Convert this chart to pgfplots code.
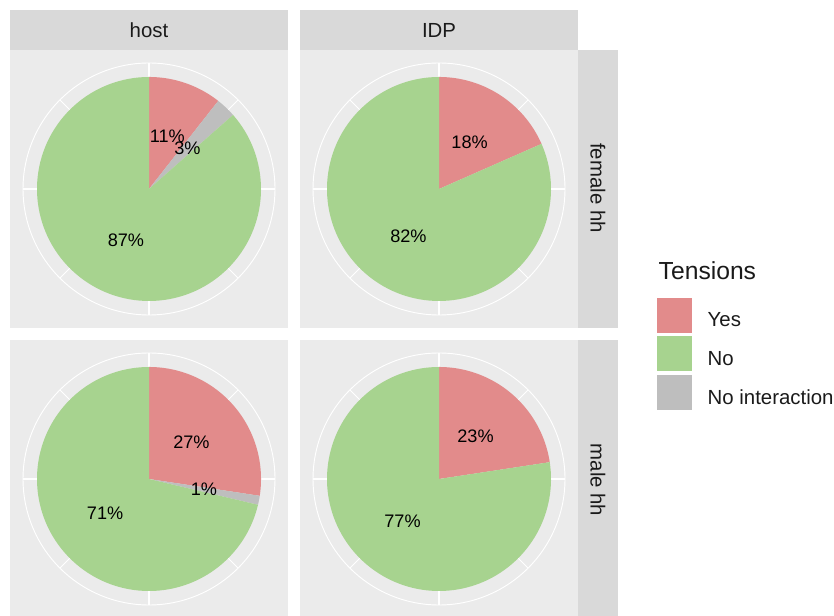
\documentclass[border=0pt]{standalone}
\usepackage{fontspec}
\setmainfont{Liberation Sans}
\usepackage{pgfplots}
\pgfplotsset{compat=1.18}

\definecolor{yescol}{RGB}{226,139,139}
\definecolor{nocol}{RGB}{167,211,143}
\definecolor{nicol}{RGB}{190,190,190}
\definecolor{panelbg}{RGB}{235,235,235}
\definecolor{stripbg}{RGB}{217,217,217}
\definecolor{txt}{RGB}{26,26,26}

\newcommand\labfont{\fontsize{13.6}{16}\selectfont}
\newcommand\stripfont{\fontsize{15.3}{18}\selectfont}

\pgfplotsset{
  piepanel/.style={
    width=208.5pt, height=208.5pt, scale only axis,
    xmin=-1.241, xmax=1.241, ymin=-1.241, ymax=1.241,
    axis line style={draw=none}, ticks=none,
    axis background/.style={fill=panelbg},
  },
  wedge/.style={draw=none, samples=120, forget plot},
  sqlegend/.style={
    legend style={at={(axis description cs:1.2806,0.1115)}, anchor=north west,
      draw=none, fill=none, inner sep=0pt, outer sep=0pt, row sep=1.1pt,
      font=\stripfont, text=txt, nodes={inner sep=0pt, yshift=-2pt},
      /tikz/every odd column/.append style={column sep=11pt}},
    legend cell align=left,
    legend image code/.code={\draw[#1, draw=white, line width=0.75pt] (0pt,-11.5pt) rectangle (27pt,15.5pt);},
  },
}

% #1,#2 lower left corner (px, y up); #3 Yes, #4 No interaction, #5 No (percent);
% #6 extra axis options; #7 extra content
\newcommand\piepanel[7]{%
  \pgfmathsetmacro\tot{#3+#4+#5}%
  \pgfmathsetmacro\aA{360*#3/\tot}%
  \pgfmathsetmacro\aB{360*(#3+#4)/\tot}%
  \pgfmathsetmacro\mA{\aA/2}%
  \pgfmathsetmacro\mB{(\aA+\aB)/2}%
  \pgfmathsetmacro\mC{(\aB+360)/2}%
  \pgfmathsetmacro\lA{int(round(#3))}%
  \pgfmathsetmacro\lB{int(round(#4))}%
  \pgfmathsetmacro\lC{int(round(#5))}%
  \begin{axis}[piepanel, at={({#1*0.75pt},{#2*0.75pt})}, anchor=south west, #6]
    % grid of the polar coordinates
    \addplot[white, line width=0.7pt, domain=0:360, samples=180, forget plot] ({1.125*sin(x)},{1.125*cos(x)});
    \addplot[white, line width=1.2pt, forget plot] coordinates {(0,0) (0,1.125)};
    \addplot[white, line width=1.2pt, forget plot] coordinates {(0,0) (1.125,0)};
    \addplot[white, line width=1.2pt, forget plot] coordinates {(0,0) (0,-1.125)};
    \addplot[white, line width=1.2pt, forget plot] coordinates {(0,0) (-1.125,0)};
    \addplot[white, line width=0.7pt, forget plot] coordinates {(0.7955,0.7955) (-0.7955,-0.7955)};
    \addplot[white, line width=0.7pt, forget plot] coordinates {(0.7955,-0.7955) (-0.7955,0.7955)};
    % slices, clockwise from the top
    \addplot[wedge, fill=yescol, domain=0:\aA] ({sin(x)},{cos(x)}) -- (0,0) -- cycle;
    \ifdim#4pt>0pt
      \addplot[wedge, fill=nicol, domain=\aA:\aB] ({sin(x)},{cos(x)}) -- (0,0) -- cycle;
    \fi
    \addplot[wedge, fill=nocol, domain=\aB:360] ({sin(x)},{cos(x)}) -- (0,0) -- cycle;
    \node[font=\labfont, text=black] at (axis cs:{0.5*sin(\mA)},{0.5*cos(\mA)}) {\lA\%};
    \ifdim#4pt>0pt
      \node[font=\labfont, text=black] at (axis cs:{0.5*sin(\mB)},{0.5*cos(\mB)}) {\lB\%};
    \fi
    \node[font=\labfont, text=black] at (axis cs:{0.5*sin(\mC)},{0.5*cos(\mC)}) {\lC\%};
    #7
  \end{axis}%
}

\begin{document}
\begin{tikzpicture}[x=0.75pt, y=0.75pt]
  \useasboundingbox (0,0) rectangle (834,616);

  % strips
  \fill[stripbg] (10,566) rectangle (288,606);
  \fill[stripbg] (300,566) rectangle (578,606);
  \fill[stripbg] (578,288) rectangle (618,566);
  \fill[stripbg] (578,-2) rectangle (618,276);
  \node[font=\stripfont, text=txt] at (149,586) {host};
  \node[font=\stripfont, text=txt] at (439,586) {IDP};
  \node[font=\stripfont, text=txt, rotate=-90] at (598,428) {female hh};
  \node[font=\stripfont, text=txt, rotate=-90] at (598,136) {male hh};

  \piepanel{10}{288}{10.6}{2.9}{86.5}{}{}
  \piepanel{300}{288}{18.4}{0}{81.6}{sqlegend}{%
    \addlegendimage{fill=yescol}\addlegendentry{Yes}
    \addlegendimage{fill=nocol}\addlegendentry{No}
    \addlegendimage{fill=nicol}\addlegendentry{No interaction}
  }
  \piepanel{10}{-2}{27.4}{1.3}{71.3}{}{}
  \piepanel{300}{-2}{22.6}{0}{77.4}{}{}

  \node[anchor=base west, font=\fontsize{18.5}{22}\selectfont, text=txt] at (654,336) {Tensions};
\end{tikzpicture}
\end{document}
